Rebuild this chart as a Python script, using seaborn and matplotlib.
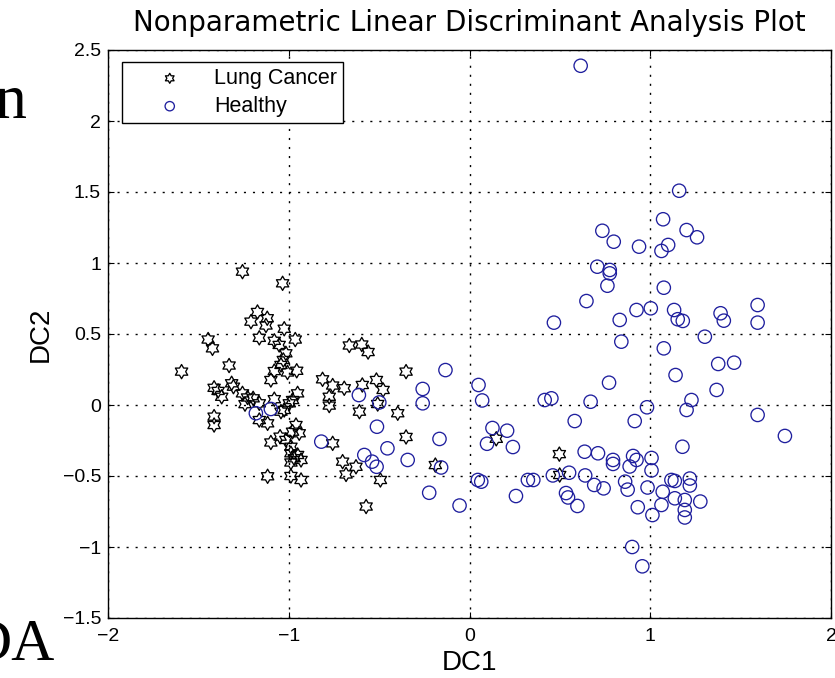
import matplotlib
matplotlib.use("Agg")
import matplotlib.pyplot as plt
import matplotlib.path as mpath
import seaborn as sns
import pandas as pd

# DC1 / DC2 scores for the two groups
cancer_dc1 = [-1.256, -1.034, -1.173, -1.209, -1.119, -1.126, -1.025, -1.163, -1.080, -1.053,
              -0.964, -1.016, -1.030, -1.043, -1.080, -1.007, -0.956, -1.099, -1.446, -1.422,
              -1.593, -1.330, -1.413, -1.391, -1.371, -1.316, -1.306, -1.256, -1.228, -1.197,
              -1.242, -1.163, -1.080, -1.025, -0.979, -0.951, -0.997, -1.043, -1.117, -1.163,
              -1.413, -1.413, -1.099, -1.048, -1.016, -0.988, -0.960, -0.942, -0.979, -0.988,
              -0.970, -0.932, -0.988, -0.951, -1.117, -0.988, -0.932, -0.665, -0.596, -0.561,
              -0.813, -0.757, -0.693, -0.776, -0.776, -0.593, -0.515, -0.478, -0.508, -0.609,
              -0.397, -0.351, -0.351, -0.757, -0.702, -0.628, -0.683, -0.493, -0.572, -0.189,
              0.148, 0.497, 0.499]
cancer_dc2 = [0.939, 0.857, 0.655, 0.587, 0.611, 0.560, 0.537, 0.473, 0.452, 0.423,
              0.461, 0.364, 0.317, 0.282, 0.239, 0.229, 0.241, 0.176, 0.461, 0.399,
              0.235, 0.278, 0.121, 0.099, 0.058, 0.153, 0.129, 0.082, 0.053, 0.047,
              0.006, 0.012, 0.041, -0.035, 0.035, 0.082, 0.012, -0.047, -0.129, -0.106,
              -0.082, -0.141, -0.264, -0.223, -0.246, -0.294, -0.141, -0.199, -0.188, -0.340,
              -0.375, -0.387, -0.405, -0.352, -0.502, -0.500, -0.528, 0.419, 0.426, 0.373,
              0.181, 0.137, 0.118, 0.058, -0.004, 0.141, 0.176, 0.106, 0.007, -0.047,
              -0.058, 0.235, -0.225, -0.270, -0.399, -0.435, -0.489, -0.528, -0.715, -0.423,
              -0.238, -0.346, -0.493]

healthy_dc1 = [0.615, 1.160, 1.071, 0.735, 0.798, 1.201, 1.259, 0.938, 1.062, 1.099,
               0.707, 0.776, 0.776, 0.763, 1.075, 0.647, 0.924, 1.003, 1.132, 1.152,
               1.180, 1.389, 1.407, 1.594, 1.594, 0.467, 0.831, 0.840, 1.302, 1.075,
               1.376, 1.464, 1.140, 0.772, 1.367, 0.416, 0.453, 0.670, 0.982, 1.228,
               1.201, 1.594, 0.582, 0.914, 1.745, 1.178, -0.133, -0.259, -0.259, 0.050,
               0.070, 0.127, 0.208, 0.097, 0.240, -0.166, -0.612, -0.499, -0.512, -0.820,
               -0.454, -0.582, -0.539, -0.514, -0.342, -0.157, -0.223, -0.055, 0.046, 0.065,
               0.257, 0.323, 0.353, 0.461, 0.551, 0.534, 0.545, 0.597, 0.637, 0.711,
               0.640, 0.690, 0.742, 0.794, 0.794, 0.905, 0.924, 0.886, 1.007, 1.007,
               0.861, 0.875, 0.985, 0.931, 1.012, 1.117, 1.136, 1.219, 1.219, 1.069,
               1.062, 1.136, 1.191, 1.277, 1.191, 1.191, 0.900, 0.956, -1.182, -1.099]
healthy_dc2 = [2.389, 1.509, 1.308, 1.227, 1.150, 1.232, 1.181, 1.115, 1.085, 1.127,
               0.974, 0.951, 0.927, 0.840, 0.826, 0.732, 0.669, 0.681, 0.669, 0.604,
               0.592, 0.646, 0.594, 0.704, 0.580, 0.580, 0.599, 0.446, 0.481, 0.399,
               0.289, 0.298, 0.211, 0.157, 0.106, 0.035, 0.047, 0.023, -0.016, 0.035,
               -0.035, -0.070, -0.113, -0.113, -0.218, -0.294, 0.246, 0.113, 0.012, 0.141,
               0.032, -0.162, -0.181, -0.273, -0.296, -0.239, 0.070, 0.018, -0.153, -0.258,
               -0.305, -0.352, -0.399, -0.435, -0.387, -0.440, -0.618, -0.708, -0.528, -0.540,
               -0.641, -0.528, -0.528, -0.496, -0.477, -0.620, -0.651, -0.711, -0.329, -0.340,
               -0.496, -0.563, -0.587, -0.387, -0.415, -0.359, -0.387, -0.433, -0.373, -0.461,
               -0.540, -0.596, -0.581, -0.720, -0.775, -0.528, -0.535, -0.518, -0.567, -0.611,
               -0.704, -0.657, -0.669, -0.680, -0.739, -0.792, -1.000, -1.136, -0.058, -0.028]

group_names = ["Lung Cancer", "Healthy"]
x_ticks = [-2, -1, 0, 1, 2]
x_tick_labels = ["\u22122", "\u22121", "0", "1", "2"]
y_ticks = [-1.5, -1, -0.5, 0, 0.5, 1, 1.5, 2, 2.5]
y_tick_labels = ["\u22121.5", "\u22121", "\u22120.5", "0", "0.5", "1", "1.5", "2", "2.5"]

cancer = pd.DataFrame({"DC1": cancer_dc1, "DC2": cancer_dc2})
healthy = pd.DataFrame({"DC1": healthy_dc1, "DC2": healthy_dc2})

sns.set_style("white")
plt.rcParams["font.family"] = ["Liberation Sans", "DejaVu Sans"]
plt.rcParams.update({
    "axes.unicode_minus": True,
    "text.color": "black",
    "axes.labelcolor": "black",
    "xtick.color": "black",
    "ytick.color": "black",
})

fig = plt.figure(figsize=(8.35, 6.78), dpi=100)
ax = fig.add_axes([108 / 835, 60 / 678, 723 / 835, 568 / 678])

hexagram = mpath.Path.unit_regular_star(6, innerCircle=0.577)
blue = "#1f1f9e"

sns.scatterplot(data=cancer, x="DC1", y="DC2", ax=ax, marker=hexagram, s=105,
                facecolors="none", edgecolor="black", linewidth=0.95,
                label=group_names[0], zorder=3)
sns.scatterplot(data=healthy, x="DC1", y="DC2", ax=ax, marker="o", s=92,
                facecolors="none", edgecolor=blue, linewidth=0.95,
                label=group_names[1], zorder=3)

ax.set_xlim(-2, 2)
ax.set_ylim(-1.5, 2.5)
ax.set_xticks(x_ticks)
ax.set_xticklabels(x_tick_labels)
ax.set_yticks(y_ticks)
ax.set_yticklabels(y_tick_labels)

ax.grid(True, color="black", linestyle=(0, (1.5, 5)), linewidth=1.0, zorder=1)
ax.set_axisbelow(True)
for sp in ax.spines.values():
    sp.set_visible(True)
    sp.set_color("black")
    sp.set_linewidth(1.0)
ax.tick_params(direction="in", length=4, width=0.8, labelsize=14,
               top=True, right=True, bottom=True, left=True)
ax.tick_params(axis="x", pad=7)
ax.tick_params(axis="y", pad=5)

ax.set_title("Nonparametric Linear Discriminant Analysis Plot", fontsize=20,
             family=["DejaVu Sans"], pad=14)
ax.set_xlabel("DC1", fontsize=20, labelpad=4)
ax.set_ylabel("DC2", fontsize=20, labelpad=6)

leg = ax.legend(loc="upper left", bbox_to_anchor=(0.019, 0.979), borderaxespad=0,
                fontsize=15.5, frameon=True, fancybox=False, edgecolor="black",
                framealpha=1, markerscale=0.7, handlelength=3.9, handletextpad=0.1,
                labelspacing=0.32, borderpad=0.28)
leg.get_frame().set_linewidth(1.0)

# surrounding slide text cut by the figure edge
fig.text(27 / 835, 1 - 118 / 678, "n", fontsize=46, family="Liberation Serif",
         ha="right", va="baseline")
fig.text(55 / 835, 1 - 660 / 678, "DA", fontsize=43, family="Liberation Serif",
         ha="right", va="baseline")

fig.savefig("out.png", dpi=100)
